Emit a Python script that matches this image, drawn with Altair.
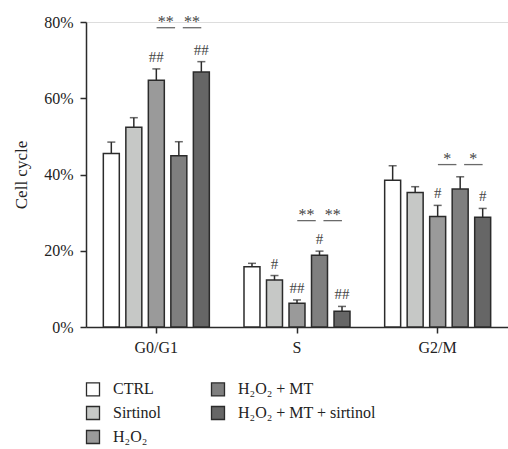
import altair as alt
import pandas as pd

groups = ["G0/G1", "S", "G2/M"]
treatments = ["CTRL", "Sirtinol", "H₂O₂", "H₂O₂ + MT", "H₂O₂ + MT + sirtinol"]
colors = ["#ffffff", "#c6c8c6", "#9a9a9a", "#7f7f7f", "#666666"]

# mean values (%) per group, in treatment order
mean_g0g1 = [45.5, 52.4, 64.7, 44.9, 66.9]
mean_s = [15.8, 12.3, 6.2, 18.8, 4.1]
mean_g2m = [38.5, 35.3, 29.0, 36.2, 28.8]
# top of error bar (%)
err_g0g1 = [48.5, 54.9, 67.7, 48.6, 69.6]
err_s = [16.7, 13.5, 7.1, 19.9, 5.4]
err_g2m = [42.3, 36.8, 31.9, 39.4, 31.1]

# '#' annotations: group, treatment, label
hash_groups = ["G0/G1", "G0/G1", "S", "S", "S", "S", "G2/M", "G2/M"]
hash_treat = ["H₂O₂", "H₂O₂ + MT + sirtinol", "Sirtinol", "H₂O₂", "H₂O₂ + MT",
              "H₂O₂ + MT + sirtinol", "H₂O₂", "H₂O₂ + MT + sirtinol"]
hash_labels = ["##", "##", "#", "##", "#", "##", "#", "#"]

# significance brackets per group (H2O2 vs H2O2+MT, H2O2+MT vs combo): label and level (%)
sig_groups = ["G0/G1", "S", "G2/M"]
sig_labels = ["**", "**", "*"]
sig_levels = [78.5, 27.9, 42.6]

means = {"G0/G1": mean_g0g1, "S": mean_s, "G2/M": mean_g2m}
errs = {"G0/G1": err_g0g1, "S": err_s, "G2/M": err_g2m}
rows = []
for g in groups:
    for i, t in enumerate(treatments):
        rows.append({"group": g, "treatment": t, "mean": means[g][i], "err": errs[g][i]})
df = pd.DataFrame(rows)

hrows = []
for g, t, l in zip(hash_groups, hash_treat, hash_labels):
    e = errs[g][treatments.index(t)]
    hrows.append({"group": g, "treatment": t, "label": l, "y": e})
hdf = pd.DataFrame(hrows)

sdf = pd.DataFrame({"group": sig_groups, "label": sig_labels, "y": sig_levels})

FONT = "Liberation Serif"
TXT = "#222222"
LINE = "#2b2b2b"

xenc = alt.X("group:N", sort=groups,
             scale=alt.Scale(paddingInner=0.2, paddingOuter=0.1),
             axis=alt.Axis(title=None, labelAngle=0, labelFont=FONT, labelFontSize=16,
                           labelColor=TXT, domainColor=LINE, domainWidth=1.5,
                           tickColor=LINE, tickWidth=1.5, tickSize=6, labelPadding=6))
xoff = alt.XOffset("treatment:N", sort=treatments,
                   scale=alt.Scale(paddingInner=0.29, paddingOuter=0.145))
yscale = alt.Scale(domain=[0, 80], nice=False)
xg = alt.X("group:N", sort=groups)

bars = alt.Chart(df).mark_bar(stroke=LINE, strokeWidth=1.5).encode(
    x=xenc,
    xOffset=xoff,
    y=alt.Y("mean:Q", scale=yscale,
            axis=alt.Axis(values=[0, 20, 40, 60, 80], labelExpr="datum.value + '%'",
                          title="Cell cycle", titleFont=FONT, titleFontSize=17,
                          titleFontWeight="normal", titleColor=TXT, titlePadding=13,
                          labelFont=FONT, labelFontSize=16, labelColor=TXT,
                          domainColor=LINE, domainWidth=1.5, tickColor=LINE,
                          tickWidth=1.5, tickSize=6, labelPadding=7, grid=False)),
    color=alt.Color("treatment:N",
                    scale=alt.Scale(domain=treatments, range=colors),
                    legend=alt.Legend(title=None, orient="none", legendX=-1, legendY=359,
                                      columns=2, columnPadding=46, rowPadding=4,
                                      symbolType="square", symbolSize=169,
                                      symbolStrokeColor=LINE, symbolStrokeWidth=1.3,
                                      labelFont=FONT, labelFontSize=16, labelColor=TXT,
                                      labelOffset=12, padding=0, labelLimit=300)),
)

errrule = alt.Chart(df).mark_rule(color=LINE, strokeWidth=1.5).encode(
    x=xg, xOffset=xoff, y=alt.Y("mean:Q", scale=yscale), y2="err:Q")

errcap = alt.Chart(df).mark_tick(color=LINE, thickness=1.5, size=8, orient="horizontal").encode(
    x=xg, xOffset=xoff, y=alt.Y("err:Q", scale=yscale))

hashes = alt.Chart(hdf).mark_text(font=FONT, fontSize=15, color="#444444",
                                  baseline="bottom", dy=-4).encode(
    x=xg, xOffset=xoff, y=alt.Y("y:Q", scale=yscale), text="label:N")

sig_layers = []
for off in (9.5, 35.7):
    sig_layers.append(alt.Chart(sdf).mark_tick(color=LINE, thickness=1.3, size=18.5,
                                               orient="horizontal", xOffset=off).encode(
        x=xg, y=alt.Y("y:Q", scale=yscale)))
    sig_layers.append(alt.Chart(sdf).mark_text(font=FONT, fontSize=16, color="#444444",
                                               baseline="alphabetic", dy=-1, dx=off).encode(
        x=xg, y=alt.Y("y:Q", scale=yscale), text="label:N"))

chart = alt.layer(bars, errrule, errcap, hashes, *sig_layers).properties(
    width=422, height=305,
    autosize=alt.AutoSizeParams(type="none"),
    padding={"left": 86, "top": 22, "right": 0, "bottom": 122},
).configure_view(stroke=None).configure(background="white")

chart.save("out.html", embed_options={"renderer": "svg", "actions": False})
